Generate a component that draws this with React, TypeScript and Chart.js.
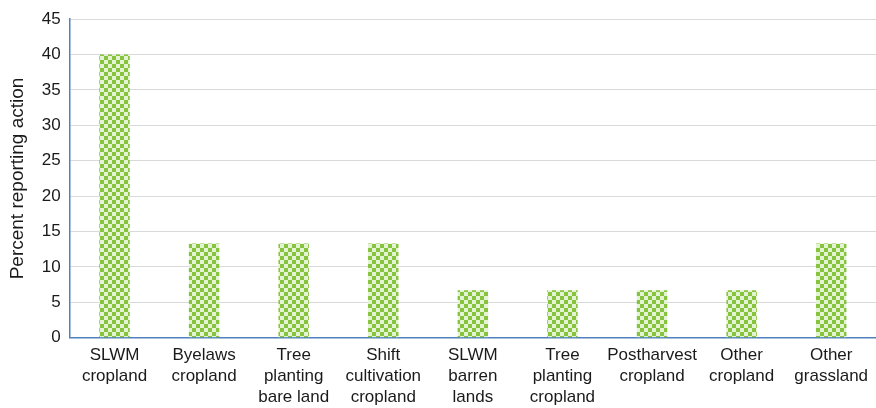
import React, { useEffect, useRef } from "react";
import { Chart, registerables } from "chart.js";

Chart.register(...registerables);

const categories: string[][] = [
  ["SLWM", "cropland"],
  ["Byelaws", "cropland"],
  ["Tree", "planting", "bare land"],
  ["Shift", "cultivation", "cropland"],
  ["SLWM", "barren", "lands"],
  ["Tree", "planting", "cropland"],
  ["Postharvest", "cropland"],
  ["Other", "cropland"],
  ["Other", "grassland"],
];
const percentValues: number[] = [40, 13.3, 13.3, 13.3, 6.7, 6.7, 6.7, 6.7, 13.3];
const yTitle = "Percent reporting action";

function makePattern(ctx: CanvasRenderingContext2D): CanvasPattern | string {
  const c = document.createElement("canvas");
  c.width = 8;
  c.height = 8;
  const p = c.getContext("2d");
  if (!p) return "#8cc63f";
  p.fillStyle = "#e4f3d2";
  p.fillRect(0, 0, 8, 8);
  p.fillStyle = "#86c440";
  p.fillRect(0, 0, 4, 4);
  p.fillRect(4, 4, 4, 4);
  return ctx.createPattern(c, "repeat") || "#8cc63f";
}

export default function App() {
  const ref = useRef<HTMLCanvasElement | null>(null);
  useEffect(() => {
    document.body.style.margin = "0";
    const canvas = ref.current;
    if (!canvas) return;
    const ctx = canvas.getContext("2d")!;
    const font = "'Liberation Sans', Arial, sans-serif";
    const chart = new Chart(canvas, {
      type: "bar",
      data: {
        labels: categories,
        datasets: [
          {
            data: percentValues,
            backgroundColor: makePattern(ctx),
            borderWidth: 0,
            barPercentage: 0.34,
            categoryPercentage: 1,
          },
        ],
      },
      options: {
        animation: false,
        responsive: false,
        maintainAspectRatio: false,
        layout: { padding: { top: 12, right: 0, left: 6, bottom: 0 } },
        plugins: { legend: { display: false }, tooltip: { enabled: false } },
        scales: {
          x: {
            grid: { display: false, drawTicks: false },
            border: { color: "#4f81bd", width: 1.5 },
            ticks: {
              color: "#1a1a1a",
              font: { family: font, size: 17, lineHeight: 1.24 },
              padding: 7,
              maxRotation: 0,
              autoSkip: false,
            },
          },
          y: {
            min: 0,
            max: 45,
            ticks: {
              stepSize: 5,
              color: "#1a1a1a",
              font: { family: font, size: 17 },
              padding: 9,
            },
            grid: { color: "#d9d9d9", drawTicks: false, lineWidth: 1 },
            border: { color: "#4f81bd", width: 1.5 },
            title: {
              display: true,
              text: yTitle,
              color: "#1a1a1a",
              font: { family: font, size: 19 },
              padding: { top: 0, bottom: 4 },
            },
          },
        },
      },
    });
    return () => chart.destroy();
  }, []);
  return (
    <div style={{ width: 876, height: 408, background: "#fff", overflow: "hidden" }}>
      <canvas ref={ref} width={876} height={415} style={{ display: "block" }} />
    </div>
  );
}
